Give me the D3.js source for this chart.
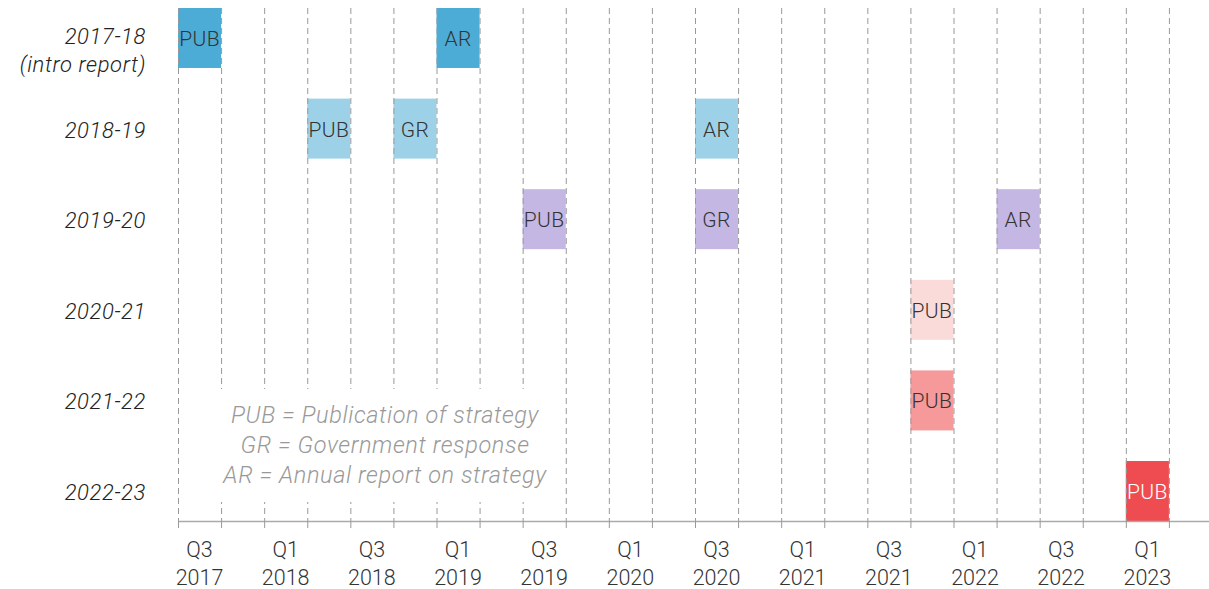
<!DOCTYPE html>
<html>
<head>
    <meta charset="utf-8">
    <title>Strategy timeline</title>
    <style>
        body { margin: 0; background: #fff; }
        svg { display: block; font-family: Roboto, "Open Sans", sans-serif; }
    </style>
    <script src="https://d3js.org/d3.v7.min.js"></script>
</head>
<body>
<div id="chart"></div>
<script>
    // quarters along x axis
    const quarters = [
        "Q3 2017", "Q4 2017", "Q1 2018", "Q2 2018", "Q3 2018", "Q4 2018",
        "Q1 2019", "Q2 2019", "Q3 2019", "Q4 2019", "Q1 2020", "Q2 2020",
        "Q3 2020", "Q4 2020", "Q1 2021", "Q2 2021", "Q3 2021", "Q4 2021",
        "Q1 2022", "Q2 2022", "Q3 2022", "Q4 2022", "Q1 2023", "Q2 2023"
    ];
    const tickQuarters = ["Q3 2017", "Q1 2018", "Q3 2018", "Q1 2019", "Q3 2019", "Q1 2020",
        "Q3 2020", "Q1 2021", "Q3 2021", "Q1 2022", "Q3 2022", "Q1 2023"];

    const rows = ["2017-18", "2018-19", "2019-20", "2020-21", "2021-22", "2022-23"];
    const rowColors = ["#4dacd6", "#9dd1e7", "#c4b7e4", "#fadbda", "#f5999a", "#ef4c51"];

    // events: row, quarter, label
    const eventRows = ["2017-18", "2017-18", "2018-19", "2018-19", "2018-19", "2019-20", "2019-20", "2019-20", "2020-21", "2021-22", "2022-23"];
    const eventQuarters = ["Q3 2017", "Q1 2019", "Q2 2018", "Q4 2018", "Q3 2020", "Q3 2019", "Q3 2020", "Q2 2022", "Q4 2021", "Q4 2021", "Q1 2023"];
    const eventLabels = ["PUB", "AR", "PUB", "GR", "AR", "PUB", "GR", "AR", "PUB", "PUB", "PUB"];

    const legendLines = ["PUB = Publication of strategy", "GR = Government response", "AR = Annual report on strategy"];

    const width = 1209, height = 589;
    const svg = d3.select("#chart").append("svg")
        .attr("width", width)
        .attr("height", height);

    const x = d3.scaleBand().domain(quarters).range([178, 1212]).padding(0);
    const y = d3.scaleBand().domain(rows).range([8, 521]).paddingInner(0.338).paddingOuter(0);
    const color = d3.scaleOrdinal().domain(rows).range(rowColors);

    const events = eventRows.map((r, i) => ({row: r, q: eventQuarters[i], label: eventLabels[i]}));

    // bars
    const bars = svg.append("g").selectAll("g")
        .data(events)
        .join("g")
        .attr("transform", d => `translate(${x(d.q)},${y(d.row)})`);

    bars.append("rect")
        .attr("width", x.bandwidth())
        .attr("height", y.bandwidth())
        .attr("fill", d => color(d.row));

    bars.append("text")
        .attr("x", x.bandwidth() / 2)
        .attr("y", y.bandwidth() / 2 + 8)
        .attr("text-anchor", "middle")
        .attr("font-size", 21)
        .attr("font-weight", 300)
        .attr("letter-spacing", 0.4)
        .attr("fill", d => d.row === "2022-23" ? "#fff" : "#333")
        .text(d => d.label);

    // dashed gridlines at the start of each quarter
    svg.append("g").selectAll("line")
        .data(quarters)
        .join("line")
        .attr("x1", d => x(d) + 0.5)
        .attr("x2", d => x(d) + 0.5)
        .attr("y1", 8)
        .attr("y2", 521)
        .attr("stroke", "#999")
        .attr("stroke-width", 1)
        .attr("stroke-dasharray", "6,4");

    // axis
    const axis = svg.append("g");
    axis.append("line")
        .attr("x1", 178).attr("x2", width)
        .attr("y1", 521.5).attr("y2", 521.5)
        .attr("stroke", "#aaa").attr("stroke-width", 1.5);
    axis.selectAll("line.tick")
        .data(quarters)
        .join("line")
        .attr("class", "tick")
        .attr("x1", d => x(d) + 0.5).attr("x2", d => x(d) + 0.5)
        .attr("y1", 521).attr("y2", 528)
        .attr("stroke", "#999");

    const tickText = axis.selectAll("text.lab")
        .data(tickQuarters)
        .join("text")
        .attr("class", "lab")
        .attr("text-anchor", "middle")
        .attr("font-size", 21.5)
        .attr("font-weight", 300)
        .attr("fill", "#333");
    tickText.append("tspan")
        .attr("x", d => x(d) + x.bandwidth() / 2)
        .attr("y", 557)
        .text(d => d.split(" ")[0]);
    tickText.append("tspan")
        .attr("x", d => x(d) + x.bandwidth() / 2)
        .attr("y", 585)
        .text(d => d.split(" ")[1]);

    // row labels
    svg.append("g").selectAll("text")
        .data(rows)
        .join("text")
        .attr("text-anchor", "end")
        .attr("font-size", 22)
        .attr("font-style", "italic")
        .attr("font-weight", 300)
        .attr("letter-spacing", 0.6)
        .attr("fill", "#222")
        .each(function (d, i) {
            const t = d3.select(this);
            const cy = y(d) + y.bandwidth() / 2;
            if (i === 0) {
                t.append("tspan").attr("x", 146).attr("y", cy + 6).text(d);
                t.append("tspan").attr("x", 146).attr("y", cy + 34).text("(intro report)");
            } else {
                t.append("tspan").attr("x", 146).attr("y", cy + 9).text(d);
            }
        });

    // legend, on a white box that hides the gridlines
    svg.append("rect")
        .attr("x", 181).attr("y", 389)
        .attr("width", 349).attr("height", 113)
        .attr("fill", "#fff");
    svg.append("g").selectAll("text")
        .data(legendLines)
        .join("text")
        .attr("x", 385)
        .attr("y", (d, i) => 423 + i * 30)
        .attr("text-anchor", "middle")
        .attr("font-size", 23.5)
        .attr("font-style", "italic")
        .attr("font-weight", 300)
        .attr("letter-spacing", 0.6)
        .attr("fill", "#999")
        .text(d => d);
</script>
</body>
</html>
